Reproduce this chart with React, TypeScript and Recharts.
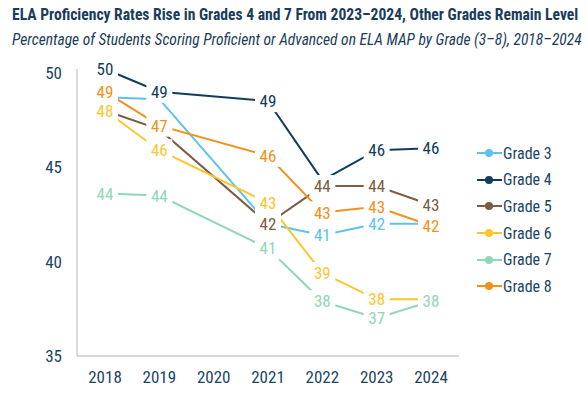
import React from "react";
import { LineChart, Line, XAxis, YAxis, LabelList } from "recharts";

const years = ["2018", "2019", "2020", "2021", "2022", "2023", "2024"];
const grade3 = [48.7, 48.6, null, 42.0, 41.4, 42.0, 42.0];
const grade4 = [50.2, 49.0, null, 48.5, 44.3, 45.9, 46.0];
const grade5 = [48.0, 47.0, null, 42.0, 44.0, 44.0, 43.0];
const grade6 = [48.0, 45.9, null, 43.1, 39.4, 38.0, 38.0];
const grade7 = [43.6, 43.5, null, 40.7, 37.9, 37.0, 37.9];
const grade8 = [49.0, 47.2, null, 45.6, 42.6, 42.9, 41.9];
const yTicks = [35, 40, 45, 50];

// labels that sit under another grade's label in the original
const hidden: Record<string, string[]> = {
  g3: ["2018", "2019", "2021", "2024"],
  g4: ["2022"],
  g5: ["2018", "2019"],
  g6: ["2024"],
  g7: [],
  g8: [],
};

const series = [
  { key: "g3", name: "Grade 3", color: "#5bc3ef", values: grade3 },
  { key: "g4", name: "Grade 4", color: "#103d5c", values: grade4 },
  { key: "g5", name: "Grade 5", color: "#7a5d44", values: grade5 },
  { key: "g6", name: "Grade 6", color: "#fdc52e", values: grade6 },
  { key: "g7", name: "Grade 7", color: "#8fd7b9", values: grade7 },
  { key: "g8", name: "Grade 8", color: "#f39019", values: grade8 },
];

const data = years.map((y, i) => {
  const row: Record<string, any> = { year: y };
  series.forEach(s => (row[s.key] = s.values[i]));
  return row;
});

const FONT = "'Roboto Condensed', 'Liberation Sans Narrow', Roboto, sans-serif";
const NAVY = "#1b4566";

function makeLabel(key: string, color: string) {
  return (props: any) => {
    const { x, y, value, index } = props;
    if (value == null || x == null) return null;
    if (hidden[key].includes(years[index])) return null;
    const txt = String(Math.round(value));
    const w = txt.length * 8 + 10;
    return (
      <g>
        <rect x={x - w / 2} y={y - 11} width={w} height={22} fill="#fff" />
        <text x={x} y={y} textAnchor="middle" dominantBaseline="central" fill={color} fontSize={17} fontFamily={FONT}>
          {txt}
        </text>
      </g>
    );
  };
}

function LegendBox() {
  return (
    <div style={{ position: "absolute", left: 477, top: 140, fontFamily: FONT }}>
      {series.map(s => (
        <div key={s.key} style={{ display: "flex", alignItems: "center", height: 26.6 }}>
          <svg width={25} height={10}>
            <line x1={0} y1={5} x2={25} y2={5} stroke={s.color} strokeWidth={2} />
            <circle cx={12} cy={5} r={4} fill={s.color} />
          </svg>
          <span style={{ color: NAVY, fontSize: 16, marginLeft: 1 }}>{s.name}</span>
        </div>
      ))}
    </div>
  );
}

export default function App() {
  return (
    <div style={{ position: "absolute", left: 0, top: 0, width: 587, height: 396, background: "#fff", fontFamily: FONT }}>
      <div style={{ position: "absolute", left: 12, top: 6, color: "#1a3c5c", fontWeight: 700, fontSize: 15.6, whiteSpace: "nowrap" }}>
        ELA Proficiency Rates Rise in Grades 4 and 7 From 2023–2024, Other Grades Remain Level
      </div>
      <div style={{ position: "absolute", left: 12, top: 31, color: "#1a3c5c", fontStyle: "italic", fontSize: 15.5, whiteSpace: "nowrap" }}>
        Percentage of Students Scoring Proficient or Advanced on ELA MAP by Grade (3–8), 2018–2024
      </div>
      <div style={{ position: "absolute", left: 0, top: 0 }}>
        <LineChart width={587} height={396} data={data} margin={{ top: 69, right: 128, bottom: 10, left: 0 }}>
          <XAxis
            dataKey="year"
            padding={{ left: 28, right: 28 }}
            tickLine={false}
            stroke="#b3b3b3"
            tickMargin={9}
            tick={{ fill: NAVY, fontSize: 17, fontFamily: FONT }}
          />
          <YAxis
            domain={[35, 50]}
            ticks={yTicks}
            width={77}
            tickLine={false}
            stroke="#b3b3b3"
            tickMargin={9}
            tick={{ fill: NAVY, fontSize: 17, fontFamily: FONT }}
          />
          {series.map(s => (
            <Line
              key={s.key}
              dataKey={s.key}
              name={s.name}
              stroke={s.color}
              strokeWidth={2}
              dot={false}
              connectNulls
              isAnimationActive={false}
            />
          ))}
          {series.map(s => (
            <Line
              key={s.key + "-lbl"}
              dataKey={s.key}
              stroke="none"
              dot={false}
              legendType="none"
              connectNulls
              isAnimationActive={false}
            >
              <LabelList dataKey={s.key} content={makeLabel(s.key, s.color)} />
            </Line>
          ))}
        </LineChart>
      </div>
      <LegendBox />
    </div>
  );
}
